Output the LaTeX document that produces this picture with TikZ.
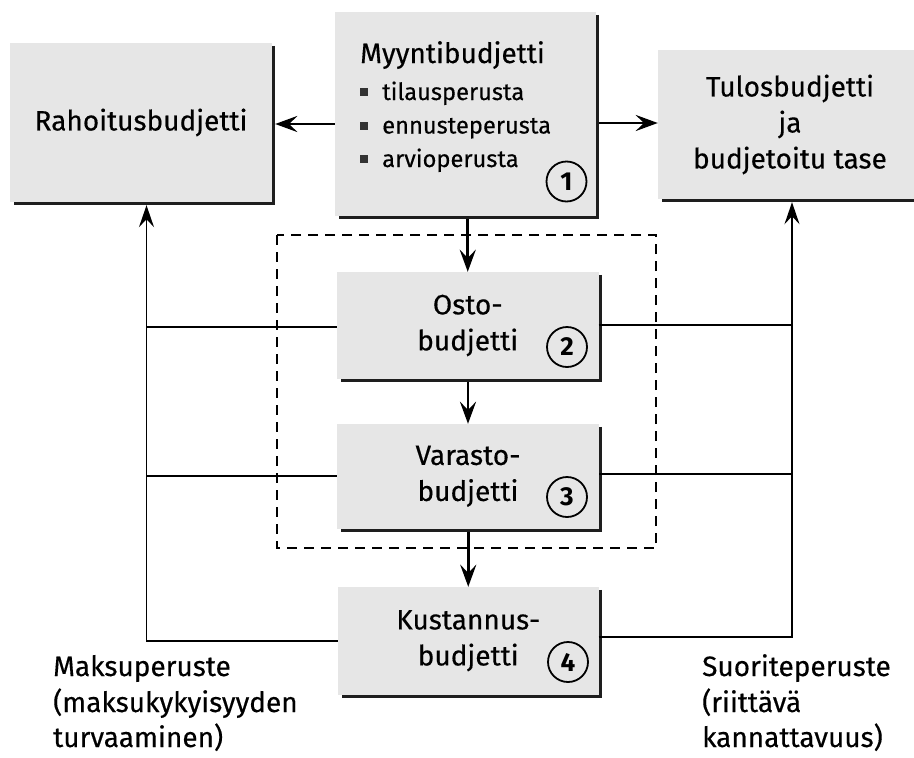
\documentclass[tikz,border=0pt]{standalone}
\usepackage{fontspec}
\setmainfont{Fira Sans}[FakeBold=0.35]
\newfontfamily\numfont{Fira Sans}
\usetikzlibrary{arrows.meta,calc}
\definecolor{boxgray}{HTML}{E6E6E6}
\definecolor{shadowgray}{HTML}{1E1E1E}
\definecolor{bulletgray}{HTML}{333333}
\newcommand{\mainfs}{\fontsize{28}{36}\selectfont}
\newcommand{\itemfs}{\fontsize{23.7}{30}\selectfont}
\newcommand{\bul}{\textcolor{bulletgray}{\rule[4pt]{8pt}{8pt}}\hspace{14pt}}
\newcommand{\boxshadow}[1]{\draw[shadowline] ($(#1.north east)+(1.5,3)$) -- ($(#1.south east)+(1.5,1.5)$) -- ($(#1.south west)+(4,1.5)$);}
\begin{document}
\begin{tikzpicture}[x=1pt,y=-1pt,
  box/.style={fill=boxgray, inner sep=0pt, align=center, font=\mainfs},
  shadowline/.style={draw=shadowgray, line width=3.3pt, line join=miter},
  arr/.style={draw=black, line width=2.6pt, -{Stealth[length=22pt,width=16pt,inset=8pt]}},
  conn/.style={draw=black, line width=1.8pt},
  uparr/.style={conn, -{Stealth[length=22pt,width=15pt,inset=8pt]}},
  num/.style={circle, draw=black, line width=1.8pt, minimum size=40pt, inner sep=0pt, font=\numfont\fontsize{26}{26}\selectfont\bfseries},
  lbl/.style={anchor=base west, inner sep=0pt, font=\mainfs},
  mtxt/.style={anchor=base west, inner sep=0pt},
  dashedframe/.style={draw=black, line width=1.6pt, dash pattern=on 10pt off 7pt}]

\useasboundingbox (0,0) rectangle (914,758);
\clip (0,0) rectangle (914,758);

% dashed frame round Osto and Varasto
\draw[dashedframe] (277,235) rectangle (656,548);

% boxes
\node[box, minimum width=262pt, minimum height=159pt] (R) at (141,122.5) {Rahoitusbudjetti};
\node[box, minimum width=261pt, minimum height=203.5pt] (M) at (465.5,113.75) {};
\node[box, minimum width=264pt, minimum height=149pt] (T) at (790,124.5) {Tulosbudjetti\\ja\\budjetoitu tase};
\node[box, minimum width=261.5pt, minimum height=107pt] (O) at (467.75,325.5) {Osto-\\budjetti};
\node[box, minimum width=262pt, minimum height=104.5pt] (V) at (468,476.25) {Varasto-\\budjetti};
\node[box, minimum width=260.5pt, minimum height=107.5pt] (K) at (468.25,640.75) {Kustannus-\\budjetti};

\boxshadow{R}
\boxshadow{M}
\boxshadow{T}
\boxshadow{O}
\boxshadow{V}
\boxshadow{K}

% Myyntibudjetti contents
\node[mtxt, font=\mainfs] (mt) at (360,63) {Myyntibudjetti};
\node[mtxt, font=\itemfs] (m1) at (360,100) {\bul tilausperusta};
\node[mtxt, font=\itemfs] (m2) at (360,133.5) {\bul ennusteperusta};
\node[mtxt, font=\itemfs] (m3) at (360,167) {\bul arvioperusta};

% numbers
\node[num] (c1) at (566.5,181.5) {1};
\node[num] (c2) at (567,347) {2};
\node[num] (c3) at (567,497) {3};
\node[num] (c4) at (568,662) {4};

% arrows from Myyntibudjetti
\draw[arr] (M.west |- 0,124) -- ($(R.east |- 0,124)+(3,0)$);
\draw[arr] ($(M.east |- 0,123)+(3,0)$) -- (T.west |- 0,123);
\draw[arr] ($(M.south -| O.north)+(0,3)$) -- (O.north);
\draw[arr] ($(O.south -| V.north)+(0,3)$) -- (V.north);
\draw[arr] ($(V.south -| K.north)+(0,3)$) -- (K.north);

% side connectors
\coordinate (LL) at (146.5,0);
\coordinate (RR) at (792,0);
\draw[conn] (O.west |- 0,327) -- (LL |- 0,327);
\draw[conn] (O.east |- 0,325) -- (RR |- 0,325);
\draw[conn] (V.west |- 0,476) -- (LL |- 0,476);
\draw[conn] (V.east |- 0,474) -- (RR |- 0,474);
\draw[uparr] (K.west |- 0,641) -| ($(R.south -| LL)+(0,3)$);
\draw[uparr] (K.east |- 0,637) -| ($(T.south -| RR)+(0,3)$);

% labels
\node[lbl] (lm1) at (53,676) {Maksuperuste};
\node[lbl] (lm2) at (53,712) {(maksukykyisyyden};
\node[lbl] (lm3) at (53,747) {turvaaminen)};
\node[lbl] (ls1) at (702,676) {Suoriteperuste};
\node[lbl] (ls2) at (702,712) {(riittävä};
\node[lbl] (ls3) at (702,747) {kannattavuus)};
\end{tikzpicture}
\end{document}
